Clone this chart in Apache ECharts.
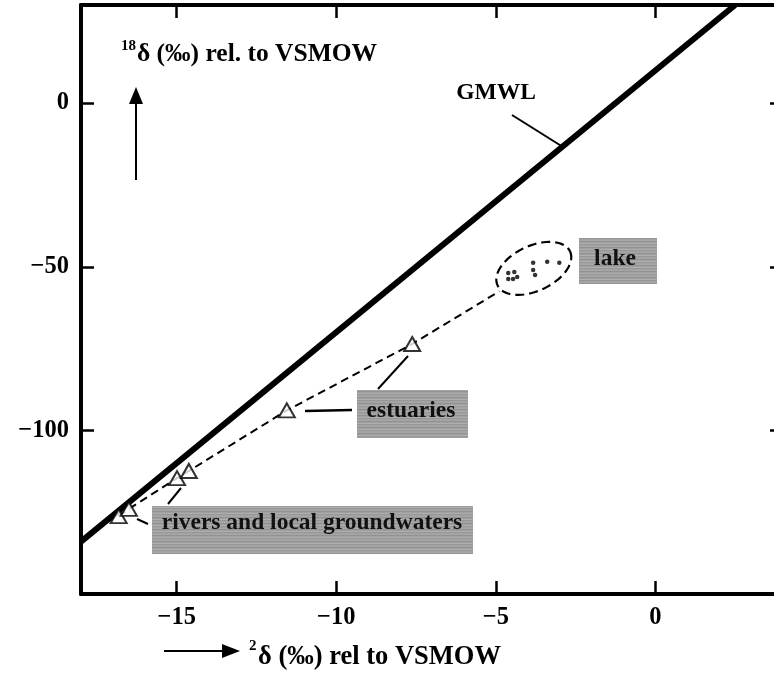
<!DOCTYPE html>
<html>
<head>
<meta charset="utf-8">
<script src="https://cdn.jsdelivr.net/npm/echarts@6/dist/echarts.min.js"></script>
<style>
  html, body { margin: 0; padding: 0; background: #fff; }
  #chart { width: 774px; height: 676px; }
</style>
</head>
<body>
<div id="chart"></div>
<script>
// Water samples (rivers/groundwaters and estuaries), in ‰
const sampleX = [-16.82, -16.50, -14.99, -14.62, -11.55, -7.62];
const sampleY = [-126.2, -124.0, -114.6, -112.4, -93.9, -73.6];

// Lake samples, in ‰
const lakeX = [-4.61, -4.42, -4.61, -4.46, -4.33, -3.83, -3.83, -3.77, -3.39, -3.01];
const lakeY = [-51.9, -51.6, -53.7, -53.7, -53.1, -48.8, -51.0, -52.5, -48.5, -48.8];

// Point where the mixing line meets the lake envelope
const lakeEdgeX = -4.89;
const lakeEdgeY = -57.5;

// Global meteoric water line end points
const gmwlX = [-18, 2.5];
const gmwlY = [-134, 30];

// Tick values
const xTicks = [-15, -10, -5, 0];
const yTicks = [-100, -50, 0];

const FONT = '"Liberation Serif", "Times New Roman", serif';
const fmt = v => (v < 0 ? '\u2212' + (-v) : String(v));

const zip = (xs, ys) => xs.map((x, i) => [x, ys[i]]);
const trendData = zip(sampleX, sampleY).concat([[lakeEdgeX, lakeEdgeY]]);
const lakeCenter = [
  (Math.min(...lakeX) + Math.max(...lakeX)) / 2,
  (Math.min(...lakeY) + Math.max(...lakeY)) / 2
];

const axisLineStyle = { color: '#000', width: 4 };
const tickStyle = { color: '#000', width: 2.5 };

function xAxisDef(pos, labels) {
  return {
    type: 'value', position: pos, min: -18, max: 4,
    axisLine: { onZero: false, lineStyle: axisLineStyle },
    axisTick: { inside: true, length: 13, lineStyle: tickStyle, customValues: xTicks },
    axisLabel: labels ? {
      customValues: xTicks, formatter: fmt, fontFamily: FONT, fontWeight: 'bold',
      fontSize: 24.5, color: '#000', margin: 11
    } : { show: false },
    splitLine: { show: false }
  };
}
function yAxisDef(pos, labels) {
  return {
    type: 'value', position: pos, min: -150, max: 30,
    axisLine: { onZero: false, lineStyle: axisLineStyle },
    axisTick: { inside: true, length: 13, lineStyle: tickStyle, customValues: yTicks },
    axisLabel: labels ? {
      customValues: yTicks, formatter: fmt, fontFamily: FONT, fontWeight: 'bold',
      fontSize: 24.5, color: '#000', margin: 12
    } : { show: false },
    splitLine: { show: false }
  };
}

// Striped grey fill for the label boxes
function stripePattern() {
  const c = document.createElement('canvas');
  c.width = 8; c.height = 6;
  const g = c.getContext('2d');
  const rows = ['#a6a6a6', '#929292', '#9f9f9f', '#aeaeae', '#979797', '#a2a2a2'];
  rows.forEach((col, i) => { g.fillStyle = col; g.fillRect(0, i, 8, 1); });
  return { image: c, repeat: 'repeat' };
}

const chart = echarts.init(document.getElementById('chart'), null, { renderer: 'canvas' });

chart.setOption({
  animation: false,
  backgroundColor: '#fff',
  grid: { left: 81, top: 5, width: 702, height: 589, containLabel: false, outerBoundsMode: 'none' },
  xAxis: [xAxisDef('bottom', true), xAxisDef('top', false)],
  yAxis: [yAxisDef('left', true), yAxisDef('right', false)],
  series: [
    {
      name: 'GMWL', type: 'line', data: zip(gmwlX, gmwlY), symbol: 'none',
      lineStyle: { color: '#000', width: 6 }, z: 3
    },
    {
      name: 'trend', type: 'line', data: trendData, symbol: 'none',
      lineStyle: { color: '#000', width: 2, type: [8, 5] }, z: 2
    },
    {
      name: 'samples', type: 'scatter', data: zip(sampleX, sampleY),
      symbol: 'triangle', symbolSize: [16, 14],
      itemStyle: { color: '#fff', borderColor: '#000', borderWidth: 2 }, z: 4
    },
    {
      name: 'lake', type: 'scatter', data: zip(lakeX, lakeY),
      symbol: 'circle', symbolSize: 4.5, itemStyle: { color: '#000' }, z: 4
    },
    {
      name: 'lake envelope', type: 'custom', data: [lakeCenter], z: 3,
      renderItem(params, api) {
        const c = api.coord([api.value(0), api.value(1)]);
        const rx = 40, ry = 22.5, rot = 25 * Math.PI / 180;
        const cy = c[1] - 2;
        const pts = [];
        for (let i = 0; i <= 90; i++) {
          const t = i / 90 * 2 * Math.PI;
          const ex = rx * Math.cos(t), ey = ry * Math.sin(t);
          pts.push([
            c[0] + ex * Math.cos(rot) + ey * Math.sin(rot),
            cy - ex * Math.sin(rot) + ey * Math.cos(rot)
          ]);
        }
        return {
          type: 'polygon', shape: { points: pts },
          style: { fill: 'none', stroke: '#000', lineWidth: 2.2, lineDash: [9, 5] }
        };
      }
    }
  ]
});

// Annotation layer: axis titles, arrows, label boxes and leader lines
const pattern = stripePattern();
function lbox(x, y, w, h, text, tx, ty) {
  return [
    { type: 'rect', shape: { x, y, width: w, height: h }, style: { fill: pattern }, z: 10 },
    { type: 'text', x: tx, y: ty, style: {
        text, fontFamily: FONT, fontWeight: 'bold', fontSize: 23.5, fill: '#111',
        align: 'center', verticalAlign: 'middle' }, z: 11 }
  ];
}
function line(x1, y1, x2, y2, w) {
  return { type: 'line', shape: { x1, y1, x2, y2 }, style: { stroke: '#000', lineWidth: w || 2 }, z: 10 };
}

const elements = [
  // y-axis title and arrow
  { type: 'text', x: 121, y: 39, style: { text: '18', fontFamily: FONT, fontWeight: 'bold', fontSize: 15, fill: '#000' }, z: 10 },
  { type: 'text', x: 137, y: 54, style: { text: '\u03b4 (\u2030) rel. to VSMOW', fontFamily: FONT, fontWeight: 'bold', fontSize: 25.5, fill: '#000', verticalAlign: 'middle' }, z: 10 },
  line(136, 180, 136, 100, 2),
  { type: 'polygon', shape: { points: [[136, 87], [129, 104], [143, 104]] }, style: { fill: '#000' }, z: 10 },

  // x-axis title and arrow
  line(164, 651, 226, 651, 2),
  { type: 'polygon', shape: { points: [[240, 651], [222, 644], [222, 658]] }, style: { fill: '#000' }, z: 10 },
  { type: 'text', x: 249, y: 639, style: { text: '2', fontFamily: FONT, fontWeight: 'bold', fontSize: 15, fill: '#000' }, z: 10 },
  { type: 'text', x: 258, y: 657, style: { text: '\u03b4 (\u2030) rel to VSMOW', fontFamily: FONT, fontWeight: 'bold', fontSize: 26.5, fill: '#000', verticalAlign: 'middle' }, z: 10 },

  // GMWL label
  { type: 'text', x: 496, y: 93, style: { text: 'GMWL', fontFamily: FONT, fontWeight: 'bold', fontSize: 23.5, fill: '#000', align: 'center', verticalAlign: 'middle' }, z: 10 },
  line(512, 115, 563, 147, 2),

  // lake
  ...lbox(579, 238, 78, 46, 'lake', 615, 259),

  // estuaries
  ...lbox(357, 390, 111, 48, 'estuaries', 411, 411),
  line(305, 411, 352, 410, 2.5),
  line(378, 389, 408, 356, 2),

  // rivers and local groundwaters
  ...lbox(152, 506, 321, 48, 'rivers and local groundwaters', 312, 523),
  line(137, 519, 148, 524, 2),
  line(168, 504, 181, 488, 2)
];

chart.setOption({ graphic: { elements } });
</script>
</body>
</html>
